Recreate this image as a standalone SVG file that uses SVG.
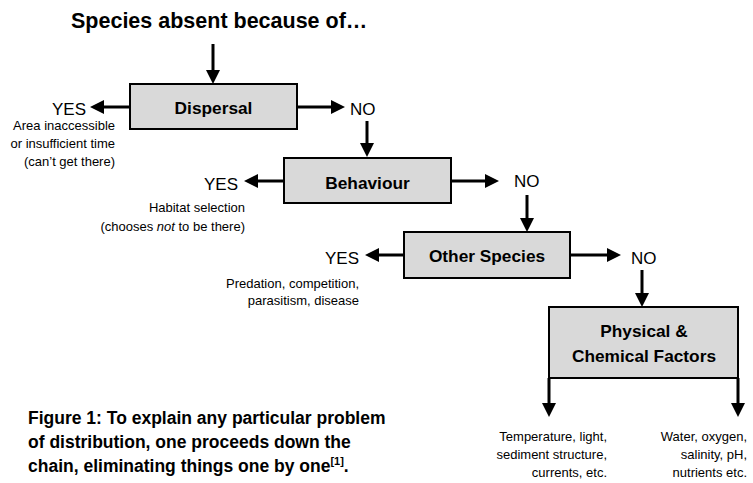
<svg xmlns="http://www.w3.org/2000/svg" width="753" height="483" viewBox="0 0 753 483">
<style>
text{font-family:"Liberation Sans",Arial,sans-serif;fill:#000}
.title{font-size:21.5px;font-weight:bold}
.box{fill:#d9d9d9;stroke:#000;stroke-width:2}
.lbl{font-size:17.3px;font-weight:bold;text-anchor:middle}
.yn{font-size:17px}
.sm{font-size:13px}
.end{text-anchor:end}
.cap{font-size:17.5px;font-weight:bold}
.con line{stroke:#000;stroke-width:3;marker-end:url(#ah)}
</style>
<defs>
<marker id="ah" markerUnits="userSpaceOnUse" viewBox="0 0 14 14" markerWidth="14" markerHeight="14" refX="2" refY="7" orient="auto">
<path d="M0,0 L14,7 L0,14 z" fill="#000"/>
</marker>
</defs>
<g id="title"><text class="title" x="71" y="28">Species absent because of…</text></g>
<g id="dispersal">
<rect class="box" x="130" y="84" width="167" height="45"/>
<text class="lbl" x="213.5" y="114">Dispersal</text>
</g>
<g id="dispersal-yes">
<text class="yn end" x="86" y="115">YES</text>
<text class="sm end" x="115" y="130">Area inaccessible</text>
<text class="sm end" x="115" y="148">or insufficient time</text>
<text class="sm end" x="115" y="166">(can’t get there)</text>
</g>
<g id="dispersal-no"><text class="yn" x="350" y="115">NO</text></g>
<g id="behaviour">
<rect class="box" x="284" y="158" width="167" height="45"/>
<text class="lbl" x="367.5" y="189">Behaviour</text>
</g>
<g id="behaviour-yes">
<text class="yn end" x="238" y="190">YES</text>
<text class="sm end" x="245" y="212">Habitat selection</text>
<text class="sm end" x="245" y="231">(chooses <tspan font-style="italic">not</tspan> to be there)</text>
</g>
<g id="behaviour-no"><text class="yn" x="514" y="187">NO</text></g>
<g id="other-species">
<rect class="box" x="404" y="232" width="166" height="46"/>
<text class="lbl" x="487" y="262">Other Species</text>
</g>
<g id="other-yes">
<text class="yn end" x="359" y="264">YES</text>
<text class="sm end" x="359" y="288">Predation, competition,</text>
<text class="sm end" x="359" y="305">parasitism, disease</text>
</g>
<g id="other-no"><text class="yn" x="631" y="264">NO</text></g>
<g id="physical">
<rect class="box" x="549" y="307" width="189" height="71"/>
<text class="lbl" x="644" y="337">Physical &amp;</text>
<text class="lbl" x="644" y="362">Chemical Factors</text>
</g>
<g id="physical-left">
<text class="sm end" x="607" y="441">Temperature, light,</text>
<text class="sm end" x="607" y="459">sediment structure,</text>
<text class="sm end" x="607" y="477">currents, etc.</text>
</g>
<g id="physical-right">
<text class="sm end" x="747" y="441">Water, oxygen,</text>
<text class="sm end" x="747" y="459">salinity, pH,</text>
<text class="sm end" x="747" y="477">nutrients etc.</text>
</g>
<g id="caption">
<text class="cap" x="28" y="424">Figure 1: To explain any particular problem</text>
<text class="cap" x="28" y="448">of distribution, one proceeds down the</text>
<text class="cap" x="28" y="472">chain, eliminating things one by one<tspan font-size="11" dy="-7">[1]</tspan><tspan dy="7">.</tspan></text>
</g>
<g id="connectors" class="con">
<line x1="213" y1="44" x2="213" y2="72"/>
<line x1="130" y1="107" x2="102" y2="107"/>
<line x1="297" y1="107" x2="333" y2="107"/>
<line x1="367" y1="121" x2="367" y2="145"/>
<line x1="284" y1="181" x2="256" y2="181"/>
<line x1="451" y1="181" x2="487" y2="181"/>
<line x1="527" y1="195" x2="527" y2="220"/>
<line x1="404" y1="255" x2="377" y2="255"/>
<line x1="570" y1="255" x2="609" y2="255"/>
<line x1="642" y1="270" x2="642" y2="295"/>
<line x1="549" y1="378" x2="549" y2="405"/>
<line x1="738" y1="378" x2="738" y2="405"/>
</g>
</svg>
